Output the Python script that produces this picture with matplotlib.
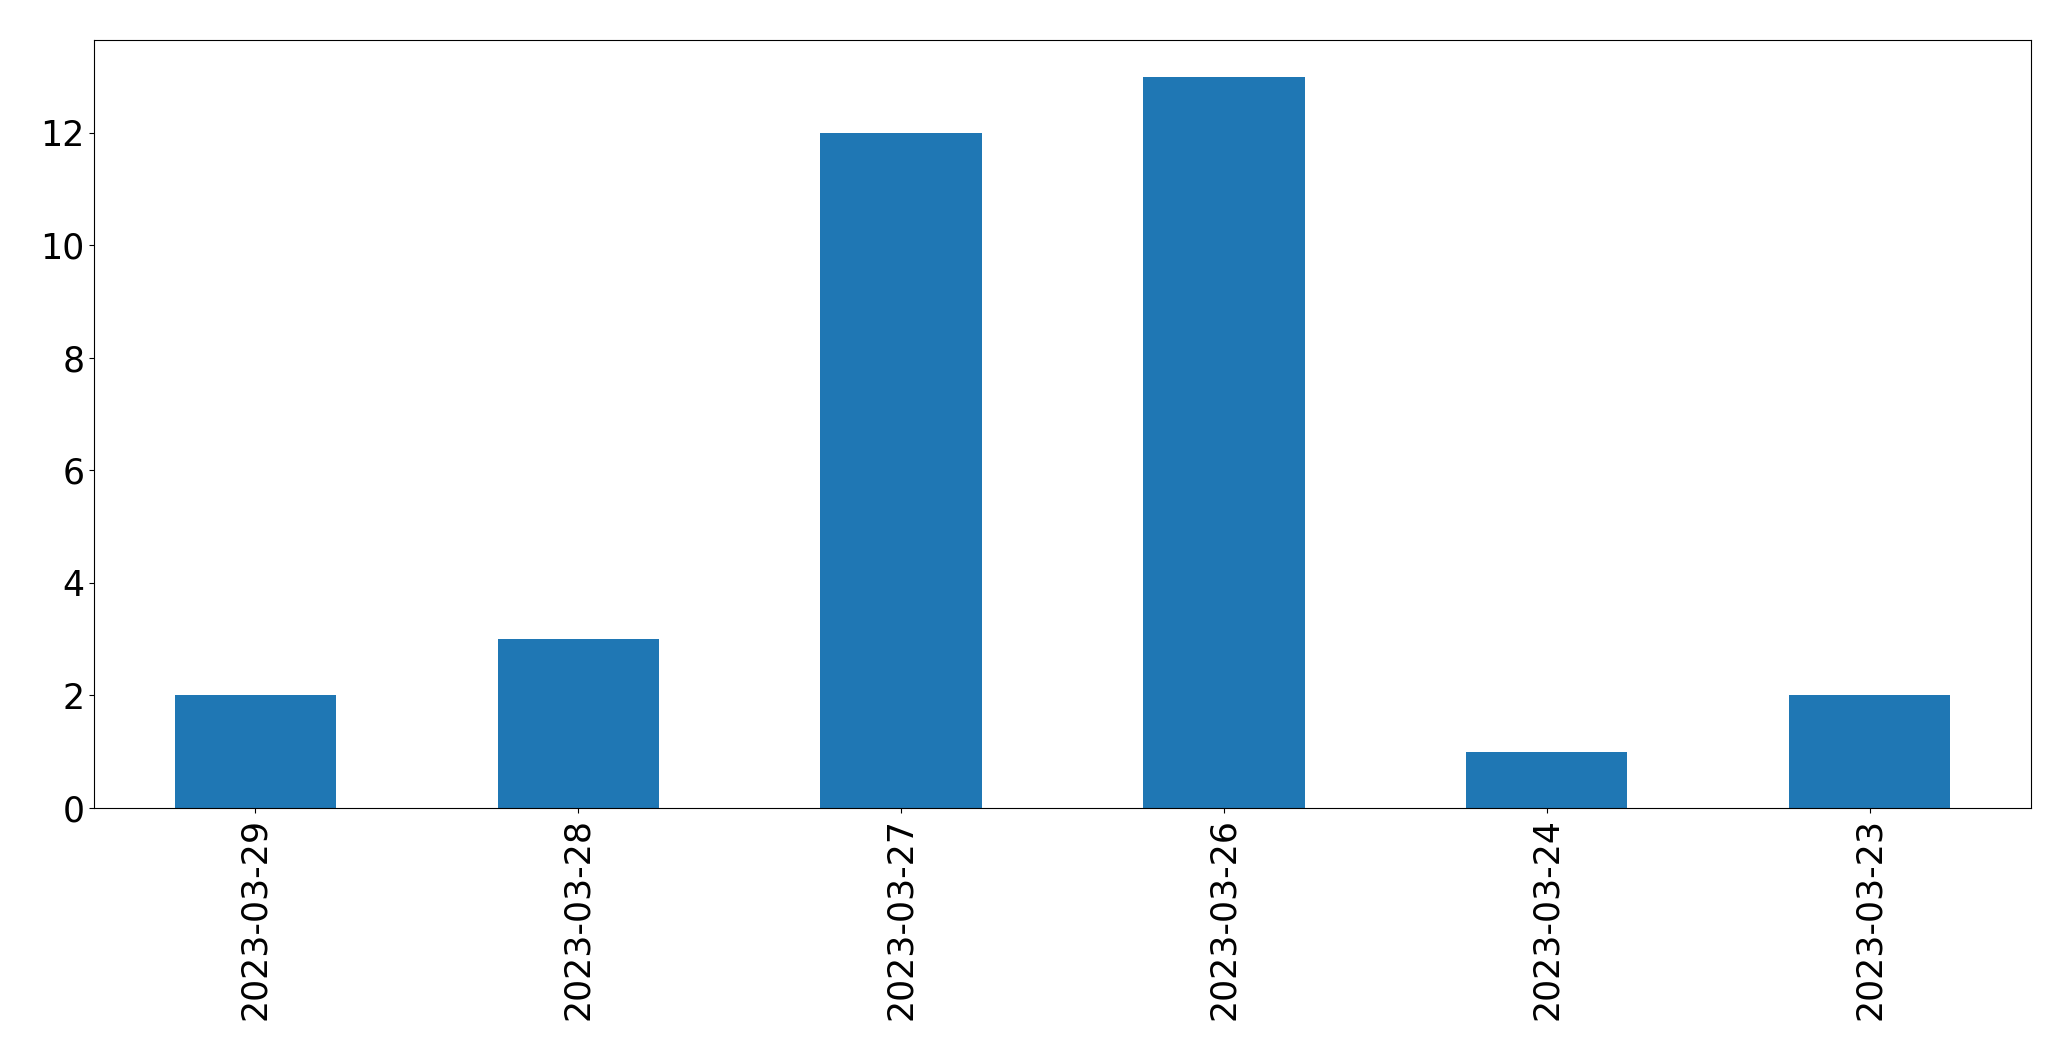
import matplotlib
matplotlib.use("Agg")
from matplotlib import pyplot as plt
import numpy as np

dates = ["2023-03-29", "2023-03-28", "2023-03-27", "2023-03-26", "2023-03-24", "2023-03-23"]
counts = [2, 3, 12, 13, 1, 2]

fig = plt.figure(figsize=(20.71, 10.61), dpi=100)
ax = fig.add_axes([94 / 2071, 1 - 808 / 1061, (2031 - 94) / 2071, (808 - 40) / 1061])

x = np.arange(len(dates))
ax.bar(x, counts, width=0.5, color="#1f77b4")
ax.set_xlim(-0.5, len(dates) - 0.5)
ax.set_xticks(x)
ax.set_xticklabels(dates, rotation=90, fontsize=25)
ax.tick_params(axis="y", labelsize=25)

fig.savefig("out.png", dpi=100)
